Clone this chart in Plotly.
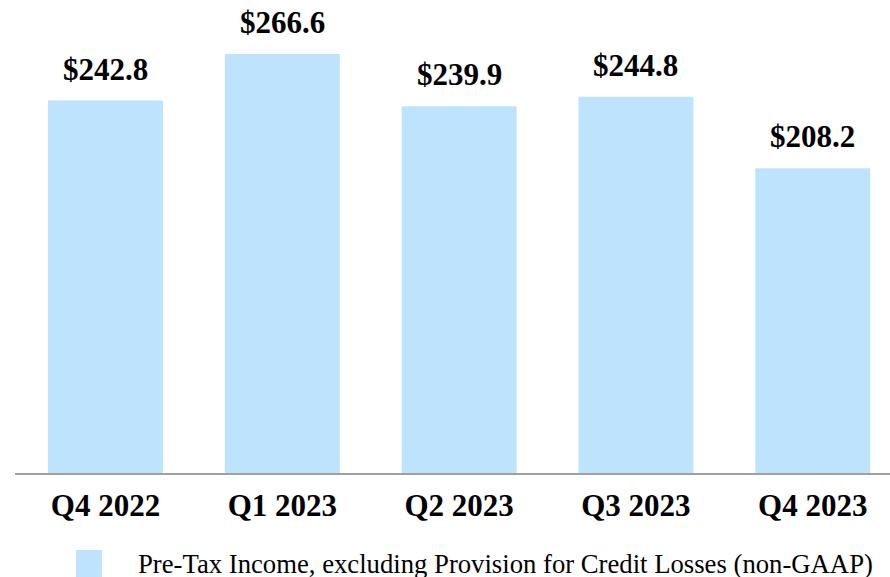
import plotly.graph_objects as go

categories = ["Q4 2022", "Q1 2023", "Q2 2023", "Q3 2023", "Q4 2023"]
values = [242.8, 266.6, 239.9, 244.8, 208.2]
value_labels = ["$242.8", "$266.6", "$239.9", "$244.8", "$208.2"]
legend_label = "Pre-Tax Income, excluding Provision for Credit Losses (non-GAAP)"

BAR = "#BEE3FC"
SERIF = "Liberation Serif, Times New Roman, serif"

fig = go.Figure()
fig.add_trace(go.Bar(x=categories, y=values, marker=dict(color=BAR, line=dict(width=0)),
                     width=0.65, showlegend=False, hoverinfo="skip"))

for c, v, t in zip(categories, values, value_labels):
    fig.add_annotation(x=c, y=v, text="<b>%s</b>" % t, showarrow=False,
                       xref="x", yref="y", yanchor="bottom", yshift=12,
                       font=dict(family=SERIF, size=31, color="black"))

# legend swatch and text
fig.add_shape(type="rect", xref="paper", yref="paper",
              x0=(76 - 15) / 875, x1=(102 - 15) / 875,
              y0=-(580 - 473) / 473, y1=-(550 - 473) / 473,
              fillcolor=BAR, line=dict(width=0))
fig.add_annotation(text=legend_label, xref="paper", yref="paper",
                   x=(136 - 15) / 875, y=-(563.5 - 473) / 473,
                   xanchor="left", yanchor="middle", showarrow=False,
                   font=dict(family=SERIF, size=26.7, color="black"))

fig.update_layout(
    width=890, height=577,
    margin=dict(l=15, r=0, t=0, b=104),
    paper_bgcolor="white", plot_bgcolor="white",
    bargap=0.35,
    xaxis=dict(range=[-0.512, 4.437], showline=True, linecolor="#A0A0A0", linewidth=2,
               ticks="", tickfont=dict(family=SERIF, size=31, color="black"),
               showgrid=False, zeroline=False, ticklabelstandoff=4),
    yaxis=dict(range=[52.5, 294.2], visible=False, showgrid=False, zeroline=False),
)
fig.update_xaxes(tickvals=categories, ticktext=["<b>%s</b>" % c for c in categories])

fig.write_html("out.html", config={"displayModeBar": False},
               post_script="document.body.style.margin='0';document.body.style.overflow='hidden';")
